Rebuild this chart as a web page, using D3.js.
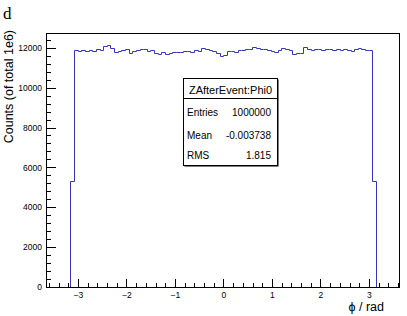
<!DOCTYPE html>
<html>
<head>
<meta charset="utf-8">
<script src="https://cdn.jsdelivr.net/npm/d3@7"></script>
<style>
  body { margin: 0; background: #fff; }
  svg { display: block; font-family: "Liberation Sans", Arial, sans-serif; }
</style>
</head>
<body>
<script>
// histogram of phi, 84 bins, partial bins at both ends
const binLo = -3.155
const binHi = 3.145
const counts = [
  5320,
  11880, 11860, 11900, 11830, 11880, 11860, 11920, 11880, 12080, 12120,
  12000, 11790, 11860, 11900, 11930, 11740, 11850, 11900, 11940,
  11920, 11840, 11880, 11760, 11700, 11770, 11680, 11720, 11790, 11800,
  11790, 11830, 11860, 11800, 11880, 11830, 12000, 11920, 11880, 11820, 11760,
  11600, 11640, 11820, 11860, 11800, 11900, 11870, 11940, 11920, 12020,
  11990, 11960, 11920, 11880, 11820, 11780, 11900, 11970, 11940, 11880, 11700, 11760,
  11730, 12060, 11960, 11900, 11930, 11950, 11900, 11920, 11960, 11880,
  11930, 11870, 11950, 11900, 11830, 11960, 11990, 11920, 11900, 11880,
  5300
]
const xTicks = [-3, -2, -1, 0, 1, 2, 3]
const yTicks = [0, 2000, 4000, 6000, 8000, 10000, 12000]
const statLabels = ['Entries', 'Mean', 'RMS']
const statValues = ['1000000', '-0.003738', '1.815']

const width = 407
const height = 316
const frame = {left: 46, right: 399, top: 33, bottom: 287}
const sans = '"Liberation Sans", Arial, sans-serif'

const svg = d3.select('body')
  .append('svg')
  .attr('width', width)
  .attr('height', height)

const x = d3.scaleLinear()
  .domain([-3.66, 3.62])
  .range([frame.left, frame.right])

const y = d3.scaleLinear()
  .domain([0, 12740])
  .range([frame.bottom, frame.top])

// step outline
const bw = (binHi - binLo) / counts.length
const pts = [[binLo, 0]]
counts.forEach((c, i) => {
  pts.push([binLo + i * bw, c])
  pts.push([binLo + (i + 1) * bw, c])
})
pts.push([binHi, 0])

svg.append('path')
  .attr('d', d3.line().x(d => Math.round(x(d[0])) + 0.5).y(d => Math.round(y(d[1])) + 0.5)(pts))
  .attr('fill', 'none')
  .attr('stroke', '#3535bb')
  .attr('stroke-width', 1)

// axes, ticks point inward like ROOT
const minorX = d3.range(-3.6, 3.61, 0.2).map(v => +v.toFixed(1))
const minorY = d3.range(0, 12700, 400)

svg.append('g')
  .attr('transform', `translate(0,${frame.bottom})`)
  .call(d3.axisBottom(x).tickValues(minorX).tickSizeInner(-4).tickSizeOuter(0).tickFormat(''))
  .call(g => g.select('.domain').remove())

svg.append('g')
  .attr('transform', `translate(0,${frame.bottom})`)
  .call(d3.axisBottom(x).tickValues(xTicks).tickSizeInner(-8).tickSizeOuter(0).tickPadding(5))
  .call(g => g.select('.domain').remove())
  .call(g => g.selectAll('text').style('font-size', '8.5px').style('font-family', sans).attr('fill', '#000'))

svg.append('g')
  .attr('transform', `translate(${frame.left},0)`)
  .call(d3.axisLeft(y).tickValues(minorY).tickSizeInner(-5).tickSizeOuter(0).tickFormat(''))
  .call(g => g.select('.domain').remove())

svg.append('g')
  .attr('transform', `translate(${frame.left},0)`)
  .call(d3.axisLeft(y).tickValues(yTicks).tickSizeInner(-10).tickSizeOuter(0).tickPadding(4).tickFormat(d3.format('d')))
  .call(g => g.select('.domain').remove())
  .call(g => g.selectAll('text').style('font-size', '8.5px').style('font-family', sans).attr('fill', '#000'))

svg.selectAll('.tick line').attr('stroke', '#000').attr('shape-rendering', 'crispEdges')

svg.append('rect')
  .attr('x', frame.left + 0.5)
  .attr('y', frame.top + 0.5)
  .attr('width', frame.right - frame.left)
  .attr('height', frame.bottom - frame.top)
  .attr('fill', 'none')
  .attr('stroke', '#000')

// titles
svg.append('text')
  .attr('x', 3)
  .attr('y', 19)
  .style('font-size', '17px')
  .style('font-family', '"Liberation Serif", "DejaVu Serif", serif')
  .text('d')

svg.append('text')
  .attr('transform', 'translate(13,30) rotate(-90)')
  .attr('text-anchor', 'end')
  .style('font-size', '12.5px')
  .text('Counts (of total 1e6)')

svg.append('text')
  .attr('x', 384)
  .attr('y', 311)
  .attr('text-anchor', 'end')
  .style('font-size', '12.5px')
  .text('\u03d5 / rad')

// stats box
const box = {x: 183, y: 78, w: 94, h: 87}
svg.append('rect')
  .attr('x', box.x + 1.5).attr('y', box.y + 1.5)
  .attr('width', box.w).attr('height', box.h)
  .attr('fill', '#000')
svg.append('rect')
  .attr('x', box.x + 0.5).attr('y', box.y + 0.5)
  .attr('width', box.w).attr('height', box.h)
  .attr('fill', '#fff').attr('stroke', '#000')
svg.append('line')
  .attr('x1', box.x).attr('x2', box.x + box.w)
  .attr('y1', 98.5).attr('y2', 98.5)
  .attr('stroke', '#000')

svg.append('text')
  .attr('x', box.x + box.w / 2 + 0.5)
  .attr('y', 94)
  .attr('text-anchor', 'middle')
  .style('font-size', '11px')
  .text('ZAfterEvent:Phi0')

const rowY = [115.5, 139, 159]
svg.selectAll('text.lab')
  .data(statLabels)
  .enter()
  .append('text')
  .attr('class', 'lab')
  .attr('x', box.x + 4)
  .attr('y', (d, i) => rowY[i])
  .style('font-size', '10px')
  .text(d => d)

svg.selectAll('text.val')
  .data(statValues)
  .enter()
  .append('text')
  .attr('class', 'val')
  .attr('x', box.x + box.w - 6)
  .attr('y', (d, i) => rowY[i])
  .attr('text-anchor', 'end')
  .style('font-size', '10px')
  .text(d => d)
</script>
</body>
</html>
